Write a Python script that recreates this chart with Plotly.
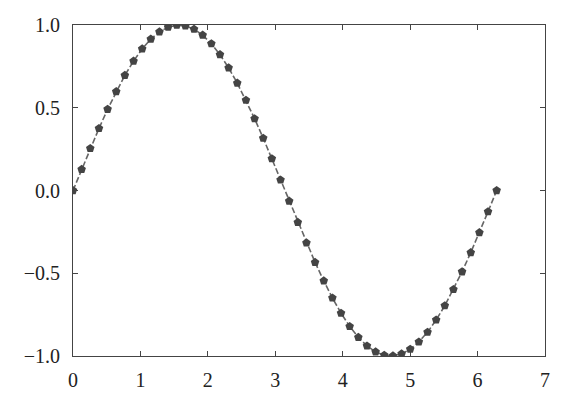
import plotly.graph_objects as go

x_vals = [0.000, 0.128, 0.256, 0.385, 0.513, 0.641, 0.769, 0.898, 1.026, 1.154,
          1.282, 1.411, 1.539, 1.667, 1.795, 1.923, 2.052, 2.180, 2.308, 2.436,
          2.565, 2.693, 2.821, 2.949, 3.078, 3.206, 3.334, 3.462, 3.590, 3.719,
          3.847, 3.975, 4.103, 4.232, 4.360, 4.488, 4.616, 4.745, 4.873, 5.001,
          5.129, 5.258, 5.386, 5.514, 5.642, 5.770, 5.899, 6.027, 6.155, 6.283]
y_vals = [0.000, 0.128, 0.254, 0.375, 0.491, 0.598, 0.696, 0.782, 0.856, 0.915,
          0.959, 0.987, 0.999, 0.995, 0.975, 0.939, 0.887, 0.821, 0.741, 0.649,
          0.546, 0.434, 0.316, 0.192, 0.064, -0.064, -0.192, -0.316, -0.434, -0.546,
          -0.649, -0.741, -0.821, -0.887, -0.939, -0.975, -0.995, -0.999, -0.987, -0.959,
          -0.915, -0.856, -0.782, -0.696, -0.598, -0.491, -0.375, -0.254, -0.128, 0.000]

x_ticks = [0, 1, 2, 3, 4, 5, 6, 7]
y_ticks = [-1.0, -0.5, 0.0, 0.5, 1.0]

fig = go.Figure()
fig.add_trace(go.Scatter(
    x=x_vals, y=y_vals, mode="lines+markers",
    line=dict(color="#666666", width=1.6, dash="6px,2.5px"),
    marker=dict(symbol="pentagon", size=9, color="#444444", line=dict(width=0)),
    cliponaxis=True, showlegend=False,
))

axis_common = dict(
    showgrid=False, zeroline=False, showline=True, linecolor="#444444", linewidth=1,
    mirror="ticks", ticks="inside", ticklen=5, tickwidth=1, tickcolor="#444444",
    tickfont=dict(family="Liberation Serif", size=20, color="#222222"),
    automargin=False,
)
fig.update_xaxes(range=[0, 7], tickvals=x_ticks, ticktext=[str(t) for t in x_ticks],
                 ticklabelstandoff=6, **axis_common)
fig.update_yaxes(range=[-1, 1], tickvals=y_ticks,
                 ticktext=[f"{t:.1f}".replace("-", "\u2212") for t in y_ticks],
                 ticklabelstandoff=8, **axis_common)

fig.update_layout(
    width=567, height=399,
    margin=dict(l=73, r=22, t=25, b=43),
    paper_bgcolor="white", plot_bgcolor="white",
)
fig.write_html("out.html")
